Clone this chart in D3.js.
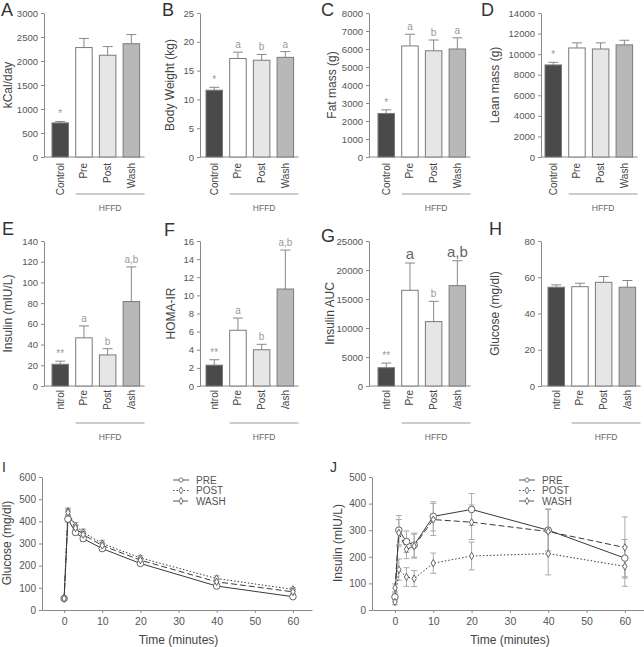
<!DOCTYPE html>
<html>
<head>
<meta charset="utf-8">
<script src="https://cdn.jsdelivr.net/npm/d3@7"></script>
<style>
  body { margin: 0; background: #fff; }
  svg { font-family: "Liberation Sans", Arial, sans-serif; }
  .axis path, .axis line { stroke: #8a8a8a; }
  .axis text { fill: #555; }
</style>
</head>
<body>
<div id="svg-container"></div>
<script>
////////////////////////////  Data  ////////////////////////////
const categories = ["Control", "Pre", "Post", "Wash"];
const barFills = ["#4a4a4a", "#ffffff", "#e6e6e6", "#b8b8b8"];

// row 1
const kcalMean = [710, 2280, 2120, 2360];
const kcalErr = [30, 190, 180, 190];
const bwMean = [11.6, 17.1, 16.8, 17.3];
const bwErr = [0.5, 1.1, 1.0, 1.0];
const fatMean = [2420, 6170, 5900, 6000];
const fatErr = [200, 650, 600, 620];
const leanMean = [8950, 10600, 10500, 10900];
const leanErr = [250, 500, 600, 450];

// row 2
const insMean = [21, 46.5, 30, 81.5];
const insErr = [3, 11.5, 6, 33.5];
const homaMean = [2.3, 6.15, 4.0, 10.7];
const homaErr = [0.6, 1.35, 0.6, 4.3];
const aucMean = [3150, 16500, 11100, 17300];
const aucErr = [800, 4700, 3500, 4300];
const gluMean = [54.5, 54.8, 57.2, 54.5];
const gluErr = [1.3, 1.9, 3.2, 3.7];

// significance letters
const sigStar = ["*", "", "", ""];
const sigAB = ["*", "a", "b", "a"];
const sigAB2 = ["**", "a", "b", "a,b"];
const sigNone = ["", "", "", ""];

// row 3 time courses
const times = [0, 1, 3, 5, 10, 20, 40, 60];
const timeTicks = [0, 10, 20, 30, 40, 50, 60];
const series = ["PRE", "POST", "WASH"];

const glucPre = [52, 410, 350, 322, 277, 210, 108, 60];
const glucPost = [52, 445, 380, 350, 300, 235, 142, 93];
const glucWash = [52, 440, 370, 340, 291, 225, 127, 82];
const glucPreErr = [5, 14, 12, 12, 10, 8, 8, 6];
const glucPostErr = [5, 15, 15, 15, 14, 10, 12, 8];
const glucWashErr = [5, 15, 14, 15, 12, 10, 10, 8];

const insPre = [49, 300, 257, 244, 352, 378, 300, 195];
const insPost = [30, 152, 124, 118, 176, 203, 212, 164];
const insWash = [83, 290, 228, 240, 340, 330, 295, 235];
const insPreErr = [15, 55, 40, 45, 55, 60, 78, 70];
const insPostErr = [10, 40, 35, 30, 38, 52, 80, 75];
const insWashErr = [15, 50, 35, 45, 60, 65, 85, 115];

////////////////////////////  Init  ////////////////////////////
const width = 644;
const height = 647;
const svg = d3.select("#svg-container").append("svg")
  .attr("width", width).attr("height", height);

const lineStyles = { PRE: null, POST: "1.5,2", WASH: "6,3" };
const markers = { PRE: d3.symbolCircle, POST: d3.symbolDiamond, WASH: d3.symbolDiamond };
const markerSize = { PRE: 34, POST: 16, WASH: 16 };

// row 2 tick labels get cut off at the bottom in the original
svg.append("clipPath").attr("id", "row2clip")
  .append("rect").attr("x", 0).attr("y", 0).attr("width", width).attr("height", 409);

////////////////////////////  Bar panels  ////////////////////////////
function barPanel(p) {
  const g = svg.append("g");
  const y = d3.scaleLinear().domain([0, p.max]).range([p.bottom, p.top]);
  const step = 23.7, bw = 16.5;
  // left edge of each bar
  const bx = (i) => p.firstBar + i * step;

  g.append("g").attr("class", "axis")
    .attr("transform", `translate(${p.axisX},0)`)
    .call(d3.axisLeft(y).tickValues(d3.range(0, p.max + 1e-9, p.tick))
      .tickFormat(d3.format("d")).tickSize(3).tickPadding(3).tickSizeOuter(0))
    .call((a) => a.selectAll("text").style("font-size", "9.5px"));

  const baseEnd = bx(3) + bw + 5;
  g.append("line")
    .attr("x1", p.axisX).attr("x2", baseEnd)
    .attr("y1", p.bottom).attr("y2", p.bottom)
    .attr("stroke", "#8a8a8a");

  // error bars (upward only)
  categories.forEach((c, i) => {
    const cx = bx(i) + bw / 2;
    const top = y(p.mean[i] + p.err[i]);
    g.append("line").attr("x1", cx).attr("x2", cx)
      .attr("y1", y(p.mean[i])).attr("y2", top).attr("stroke", "#888");
    g.append("line").attr("x1", cx - 5).attr("x2", cx + 5)
      .attr("y1", top).attr("y2", top).attr("stroke", "#888");
  });

  g.selectAll(".bar").data(p.mean).enter().append("rect")
    .attr("x", (d, i) => bx(i))
    .attr("y", (d) => y(d))
    .attr("width", bw)
    .attr("height", (d) => p.bottom - y(d))
    .attr("fill", (d, i) => barFills[i])
    .attr("stroke", "#7a7a7a");

  // significance
  g.selectAll(".sig").data(p.sig).enter().append("text")
    .attr("x", (d, i) => bx(i) + bw / 2)
    .attr("y", (d, i) => y(p.mean[i] + p.err[i]) - 4)
    .attr("text-anchor", "middle")
    .style("font-size", (d, i) => (p.big && p.big[i] ? "15px" : "10px"))
    .attr("fill", (d, i) => (p.big && p.big[i] ? "#666" : "#999"))
    .text((d) => d);

  // category labels
  const lab = g.append("g");
  if (p.clip) lab.attr("clip-path", "url(#row2clip)");
  lab.selectAll("text").data(categories).enter().append("text")
    .attr("transform", (d, i) => `translate(${bx(i) + bw / 2 + 3.5},${p.bottom + p.labOff}) rotate(-90)`)
    .attr("text-anchor", "end")
    .style("font-size", "10px")
    .attr("fill", "#444")
    .text((d) => d);

  // HFFD bracket
  g.append("line")
    .attr("x1", bx(1)).attr("x2", baseEnd)
    .attr("y1", p.bottom + 37).attr("y2", p.bottom + 37)
    .attr("stroke", "#999");
  g.append("text")
    .attr("x", (bx(1) + baseEnd) / 2).attr("y", p.bottom + 54)
    .attr("text-anchor", "middle")
    .style("font-size", "8.5px").attr("fill", "#666")
    .text("HFFD");

  // y label
  g.append("text")
    .attr("transform", `translate(${p.labelX},${(p.top + p.bottom) / 2}) rotate(-90)`)
    .attr("text-anchor", "middle").attr("dy", "0.35em")
    .style("font-size", "12px").attr("fill", "#444")
    .text(p.yLabel);

  // panel letter
  g.append("text").attr("x", p.letterX).attr("y", p.letterY)
    .style("font-size", "18px").attr("fill", "#333")
    .text(p.letter);
}

const r1 = { top: 13, bottom: 157, labOff: 6 };
const r2 = { top: 241, bottom: 386, labOff: 4, clip: true };

barPanel({ ...r1, axisX: 44, firstBar: 52, max: 3000, tick: 500, mean: kcalMean, err: kcalErr, sig: sigStar, yLabel: "kCal/day", labelX: 8, letter: "A", letterX: 1, letterY: 16 });
barPanel({ ...r1, axisX: 200, firstBar: 206, max: 25, tick: 5, mean: bwMean, err: bwErr, sig: sigAB, yLabel: "Body Weight (kg)", labelX: 170, letter: "B", letterX: 162, letterY: 16 });
barPanel({ ...r1, axisX: 369, firstBar: 378, max: 8000, tick: 1000, mean: fatMean, err: fatErr, sig: sigAB, yLabel: "Fat mass  (g)", labelX: 332, letter: "C", letterX: 321, letterY: 16 });
barPanel({ ...r1, axisX: 541, firstBar: 545, max: 14000, tick: 2000, mean: leanMean, err: leanErr, sig: sigStar, yLabel: "Lean mass  (g)", labelX: 495, letter: "D", letterX: 481, letterY: 16 });

barPanel({ ...r2, axisX: 44, firstBar: 52, max: 140, tick: 20, mean: insMean, err: insErr, sig: sigAB2, yLabel: "Insulin (mIU/L)", labelX: 8, letter: "E", letterX: 2, letterY: 235 });
barPanel({ ...r2, axisX: 200, firstBar: 206, max: 16, tick: 2, mean: homaMean, err: homaErr, sig: sigAB2, yLabel: "HOMA-IR", labelX: 171, letter: "F", letterX: 164, letterY: 236 });
barPanel({ ...r2, axisX: 369, firstBar: 378, max: 25000, tick: 5000, mean: aucMean, err: aucErr, sig: sigAB2, big: [false, true, false, true], yLabel: "Insulin AUC", labelX: 330, letter: "G", letterX: 321, letterY: 242 });
barPanel({ ...r2, axisX: 541, firstBar: 548, max: 80, tick: 20, mean: gluMean, err: gluErr, sig: sigNone, yLabel: "Glucose (mg/dl)", labelX: 495, letter: "H", letterX: 489, letterY: 235 });

////////////////////////////  Time course panels  ////////////////////////////
function linePanel(p) {
  const g = svg.append("g");
  const x = d3.scaleLinear().domain(p.xDomain).range([p.axisX, p.xEnd]);
  const y = d3.scaleLinear().domain([0, p.max]).range([610, 477]);

  g.append("g").attr("class", "axis")
    .attr("transform", `translate(${p.axisX},0)`)
    .call(d3.axisLeft(y).tickValues(d3.range(0, p.max + 1, 100)).tickSize(3).tickPadding(3).tickSizeOuter(0))
    .call((a) => a.selectAll("text").style("font-size", "10px").attr("fill", "#444"));

  g.append("g").attr("class", "axis")
    .attr("transform", `translate(0,610)`)
    .call(d3.axisBottom(x).tickValues(timeTicks).tickSize(3).tickPadding(5).tickSizeOuter(0))
    .call((a) => a.selectAll("text").style("font-size", "10.5px").attr("fill", "#444"));

  const line = d3.line().x((d, i) => x(times[i])).y((d) => y(d));

  series.forEach((s, k) => {
    const vals = p.values[k], errs = p.errs[k];
    // error bars
    vals.forEach((v, i) => {
      const cx = x(times[i]);
      g.append("line").attr("x1", cx).attr("x2", cx)
        .attr("y1", y(v - errs[i])).attr("y2", y(v + errs[i])).attr("stroke", "#aaa");
      [v - errs[i], v + errs[i]].forEach((e) => {
        g.append("line").attr("x1", cx - 3).attr("x2", cx + 3)
          .attr("y1", y(e)).attr("y2", y(e)).attr("stroke", "#aaa");
      });
    });
    g.append("path").datum(vals).attr("d", line)
      .attr("fill", "none").attr("stroke", "#3a3a3a").attr("stroke-width", 1)
      .attr("stroke-dasharray", lineStyles[s]);
  });
  series.forEach((s, k) => {
    g.selectAll(".m" + k).data(p.values[k]).enter().append("path")
      .attr("transform", (d, i) => `translate(${x(times[i])},${y(d)})`)
      .attr("d", d3.symbol().size(markerSize[s]).type(markers[s])())
      .attr("fill", "#fff").attr("stroke", "#666");
  });

  // legend
  series.forEach((s, k) => {
    const ly = 480 + k * 10.5;
    g.append("line").attr("x1", p.legX).attr("x2", p.legX + 16)
      .attr("y1", ly).attr("y2", ly)
      .attr("stroke", "#555").attr("stroke-dasharray", lineStyles[s]);
    g.append("path").attr("transform", `translate(${p.legX + 8},${ly})`)
      .attr("d", d3.symbol().size(14).type(markers[s])())
      .attr("fill", "#fff").attr("stroke", "#777");
    g.append("text").attr("x", p.legX + 23).attr("y", ly).attr("dy", "0.35em")
      .style("font-size", "10px").attr("fill", "#555").text(s);
  });

  g.append("text")
    .attr("x", (x(0) + x(60)) / 2).attr("y", 644)
    .attr("text-anchor", "middle")
    .style("font-size", "12px").attr("fill", "#444")
    .text("Time (minutes)");

  g.append("text")
    .attr("transform", `translate(${p.labelX},543) rotate(-90)`)
    .attr("text-anchor", "middle").attr("dy", "0.35em")
    .style("font-size", "12px").attr("fill", "#444")
    .text(p.yLabel);

  g.append("text").attr("x", p.letterX).attr("y", 472)
    .style("font-size", "14px").attr("fill", "#333")
    .text(p.letter);
}

linePanel({ axisX: 42, xEnd: 312, xDomain: [-5.8, 65], max: 600,
  values: [glucPre, glucPost, glucWash], errs: [glucPreErr, glucPostErr, glucWashErr],
  legX: 173, yLabel: "Glucose (mg/dl)", labelX: 7, letter: "I", letterX: 2 });
linePanel({ axisX: 372, xEnd: 644, xDomain: [-6, 65], max: 500,
  values: [insPre, insPost, insWash], errs: [insPreErr, insPostErr, insWashErr],
  legX: 519, yLabel: "Insulin (mIU/L)", labelX: 338, letter: "J", letterX: 330 });
</script>
</body>
</html>
